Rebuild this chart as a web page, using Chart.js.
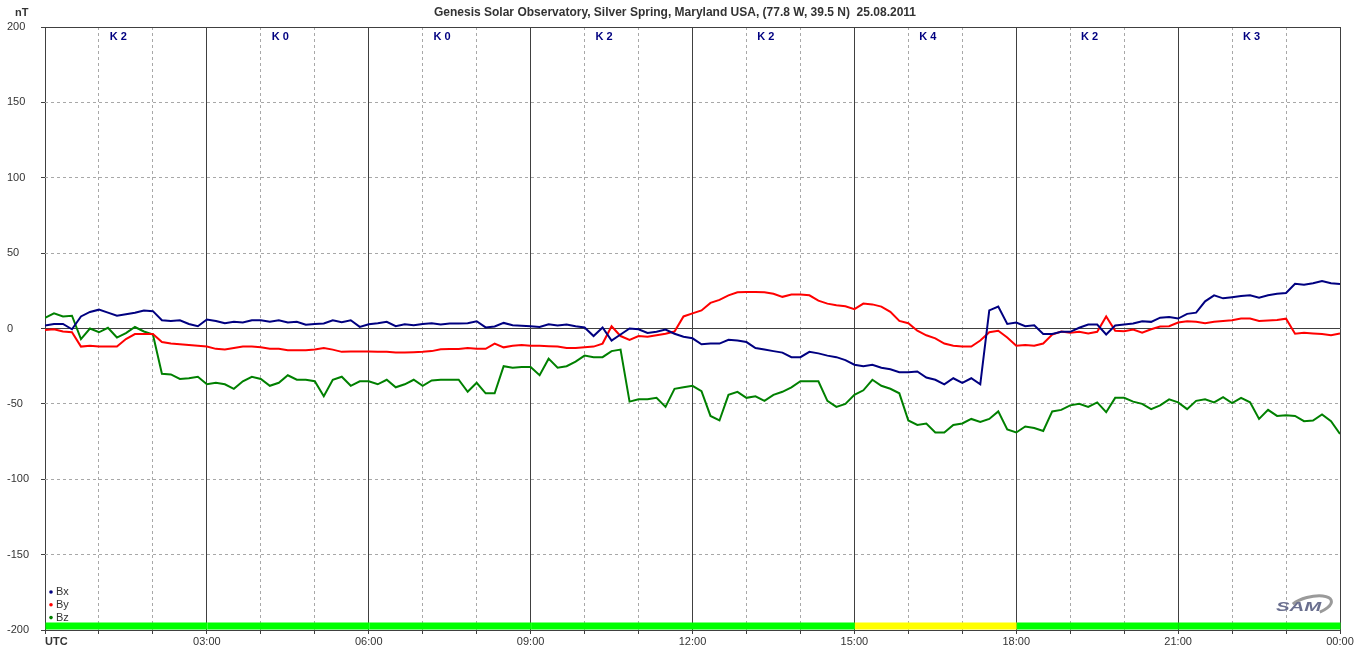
<!DOCTYPE html>
<html>
<head>
<meta charset="utf-8">
<title>Genesis Solar Observatory - 25.08.2011</title>
<script src="https://cdn.jsdelivr.net/npm/chart.js@4.4.0/dist/chart.umd.min.js"></script>
<style>
  html, body { margin: 0; padding: 0; background: #fff; }
  canvas { display: block; }
</style>
</head>
<body>
<canvas id="grafico" width="1360" height="657"></canvas>
<script>
// ======== DADOS ===========
// amostras a cada 10 minutos, de 00:00 a 24:00 UTC (minutos)
const passo = 10;
const tempos = Array.from({ length: 145 }, (_, i) => i * passo);

const bx = [
  2, 3, 3, -0.5, 8, 11, 12.5, 10.5, 8.5, 9.5,
  10.5, 12, 11.5, 5.5, 5, 5.5, 3, 1.5, 6, 5,
  3.5, 4.5, 4, 5.5, 5.5, 4.5, 5.5, 4, 4.5, 2.5,
  3, 3.3, 5.5, 4.2, 5.5, 1.1, 2.8, 3.5, 4.4, 1.5,
  2.8, 2.2, 3, 3.5, 2.6, 3.3, 3.3, 3.5, 4.8, 0.7,
  1.3, 3.7, 2.2, 1.8, 1.5, 1, 2.8, 2, 2.6, 1.5,
  0.7, -5, 0.7, -8, -4, 0, -0.5, -3, -2.2, -0.7,
  -3.5, -5.5, -6.5, -10.5, -10, -10, -7.5, -8, -9, -13,
  -14, -15, -16, -19, -19, -15.5, -16.5, -18, -19, -21,
  -24, -25, -24, -26, -27, -29, -29, -28.5, -32.5, -34,
  -37, -33, -36, -33, -37, 12, 14.5, 3, 4, 1.5,
  2.2, -3.7, -3.7, -2.2, -2.2, 0.5, 2.6, 2.6, -4, 2,
  2.6, 3.3, 4.8, 4.4, 7.2, 7.7, 6.6, 9.7, 10.5, 18,
  22, 20, 20.8, 21.5, 22, 20.5, 22, 23, 23.5, 29.6,
  29, 30, 31.5, 30, 29.5
];

const by = [
  -1, -0.5, -2, -2.5, -12, -11.5, -12, -12, -12, -7,
  -3.7, -3.7, -3.7, -9, -10, -10.5, -11, -11.5, -12, -13.5,
  -14, -13, -12, -12, -12.5, -13.5, -13.5, -14.5, -14.5, -14.5,
  -14, -13, -14, -15.5, -15.3, -15.3, -15.3, -15.5, -15.5, -16,
  -16, -15.7, -15.5, -15, -13.8, -13.6, -13.6, -13, -13.5, -13.5,
  -10, -12.5, -11.5, -11, -11.5, -11.5, -11.7, -12, -13, -13,
  -12.5, -12, -10, 1.5, -5, -7.5, -5, -5.5, -4.5, -3.5,
  -2, 8, 10, 12, 17, 19, 22, 24, 24.2, 24.2,
  24, 23, 21, 22.5, 22.5, 22, 18.5, 16.5, 15.4, 14.8,
  12.8, 16.5, 16, 14.5, 11, 5, 3.5, -1.5, -4.5, -6.5,
  -10, -11.5, -12, -12, -8, -2.5, -1.5, -6, -11.5, -11,
  -11.5, -10, -4, -2, -2.8, -2.2, -3.3, -2.2, 8, -1.5,
  -1.8, -0.7, -2.8, -0.5, 1.3, 1.5, 4, 4.8, 4.4, 3.5,
  4.4, 5, 5.5, 6.6, 6.6, 5, 5.3, 5.7, 6.5, -3.5,
  -2.8, -3.3, -3.7, -4.5, -3.3
];

const bz = [
  7, 10, 8, 8.5, -7, 0, -2.5, 0.5, -6, -3,
  1, -2, -4, -30, -30.5, -33.5, -33, -32, -37, -36,
  -37, -40, -35, -32, -33.5, -38, -36, -31, -34, -34,
  -35, -45, -34, -32, -38, -35, -35, -37, -34, -39,
  -37, -34, -38, -34.5, -34, -34, -34, -42, -36, -43,
  -43, -25, -26, -25.5, -25.5, -31, -20, -26, -25, -22,
  -18, -19, -19, -15, -14, -48.5, -47, -47, -46, -52,
  -40, -39, -38, -41.5, -58, -61, -44, -42, -46, -45,
  -48, -44, -42, -39, -35, -35, -35, -48, -52, -50,
  -44, -41, -34, -38, -40, -43, -61, -64, -63, -69,
  -69, -64, -63, -60, -62, -60, -55, -67, -69, -65,
  -66, -68, -55, -54, -51, -50, -52, -49, -55.5, -46,
  -46, -48.5, -50, -53.5, -51, -47, -49, -53.5, -48, -47,
  -49, -45.5, -49.5, -46, -49, -60, -54, -58, -57.5, -58,
  -61.5, -61, -57, -61.5, -70
];

// índice K por bloco de 3 horas
const indiceK = [2, 0, 0, 2, 2, 4, 2, 3];

const ticksY = [-200, -150, -100, -50, 0, 50, 100, 150, 200];
const linhasSolidasY = [-200, 0, 200];
const linhasSolidasX = [0, 180, 360, 540, 720, 900, 1080, 1260, 1440];

const titulo = 'Genesis Solar Observatory, Silver Spring, Maryland USA, (77.8 W, 39.5 N)  25.08.2011';
const fonte = '"Liberation Sans", Arial, sans-serif';

const pontos = serie => serie.map((v, i) => ({ x: tempos[i], y: v }));

function rotuloHora(v) {
  if (v % 180 !== 0 || v === 0) return '';
  const h = (v / 60) % 24;
  return String(h).padStart(2, '0') + ':00';
}

// ======== EXTRAS (título, K, barra, legenda) ==========
const extras = {
  id: 'extras',
  beforeDatasetsDraw(chart) {
    const { ctx, chartArea: a, scales: { x } } = chart;
    indiceK.forEach((k, i) => {
      const x0 = x.getPixelForValue(i * 180);
      const x1 = x.getPixelForValue((i + 1) * 180);
      ctx.fillStyle = k >= 5 ? '#ff0000' : (k === 4 ? '#ffff00' : '#00ff00');
      ctx.fillRect(x0 + 0.5, a.bottom - 7.5, x1 - x0, 7);
    });
  },
  afterDraw(chart) {
    const { ctx, chartArea: a, scales: { x } } = chart;
    ctx.save();

    // título
    ctx.fillStyle = '#333';
    ctx.font = 'bold 12px ' + fonte;
    ctx.textAlign = 'center';
    ctx.textBaseline = 'middle';
    ctx.fillText(titulo, 675, 13);

    // unidade
    ctx.font = 'bold 11px ' + fonte;
    ctx.textAlign = 'left';
    ctx.fillText('nT', 15, 13);

    // UTC
    ctx.fillText('UTC', a.left, 642);

    // K
    ctx.fillStyle = '#000080';
    indiceK.forEach((k, i) => {
      ctx.fillText('K ' + k, x.getPixelForValue(i * 180 + 72), 37);
    });

    // legenda
    ctx.font = '11px ' + fonte;
    chart.data.datasets.forEach((ds, i) => {
      const y = a.bottom - 38 + i * 12.8;
      ctx.fillStyle = ds.borderColor;
      ctx.beginPath();
      ctx.arc(a.left + 6, y, 1.8, 0, Math.PI * 2);
      ctx.fill();
      ctx.fillStyle = '#333';
      ctx.fillText(ds.label, a.left + 11, y);
    });

    // logo SAM
    ctx.strokeStyle = '#9a9a9a';
    ctx.lineWidth = 3;
    ctx.beginPath();
    ctx.ellipse(1310, 606, 22, 9, -0.25, -2.4, 1.2);
    ctx.stroke();
    ctx.translate(1276, 608);
    ctx.scale(1.7, 1);
    ctx.fillStyle = '#6a6f8f';
    ctx.font = 'italic bold 12px ' + fonte;
    ctx.fillText('SAM', 0, 0);

    ctx.restore();
  }
};

// ======== GRÁFICO ==========
new Chart(document.getElementById('grafico'), {
  type: 'line',
  data: {
    datasets: [
      { label: 'Bx', data: pontos(bx), borderColor: '#000080' },
      { label: 'By', data: pontos(by), borderColor: '#ff0000' },
      { label: 'Bz', data: pontos(bz), borderColor: '#008000' }
    ]
  },
  options: {
    responsive: false,
    animation: false,
    parsing: false,
    elements: {
      line: { borderWidth: 2, tension: 0 },
      point: { radius: 0 }
    },
    layout: { padding: { top: 27, right: 20, left: 7, bottom: 0 } },
    plugins: {
      legend: { display: false },
      tooltip: { enabled: false }
    },
    scales: {
      x: {
        type: 'linear',
        min: 0,
        max: 1440,
        afterBuildTicks: s => { s.ticks = tempos.filter(t => t % 60 === 0).map(t => ({ value: t })); },
        afterFit: s => { s.height = 27; },
        ticks: {
          autoSkip: false,
          maxRotation: 0,
          padding: 1,
          color: '#333',
          font: { family: fonte, size: 11 },
          callback: rotuloHora
        },
        grid: { color: '#a8a8a8', tickColor: '#404040', tickLength: 4 },
        border: { display: false, dash: [3, 3] }
      },
      x2: {
        type: 'linear',
        position: 'bottom',
        min: 0,
        max: 1440,
        afterBuildTicks: s => { s.ticks = linhasSolidasX.map(v => ({ value: v })); },
        afterFit: s => { s.height = 0; },
        ticks: { display: false },
        grid: { color: '#404040', drawTicks: false },
        border: { display: false }
      },
      y: {
        min: -200,
        max: 200,
        afterBuildTicks: s => { s.ticks = ticksY.map(v => ({ value: v })); },
        afterFit: s => { s.width = 38; },
        ticks: {
          crossAlign: 'far',
          color: '#333',
          font: { family: fonte, size: 11 }
        },
        grid: { color: '#a8a8a8', tickColor: '#404040', tickLength: 4 },
        border: { display: false, dash: [3, 3] }
      },
      yz: {
        position: 'left',
        min: -200,
        max: 200,
        afterBuildTicks: s => { s.ticks = linhasSolidasY.map(v => ({ value: v })); },
        afterFit: s => { s.width = 0; },
        ticks: { display: false },
        grid: { color: '#404040', drawTicks: false },
        border: { display: false }
      }
    }
  },
  plugins: [extras]
});
</script>
</body>
</html>
